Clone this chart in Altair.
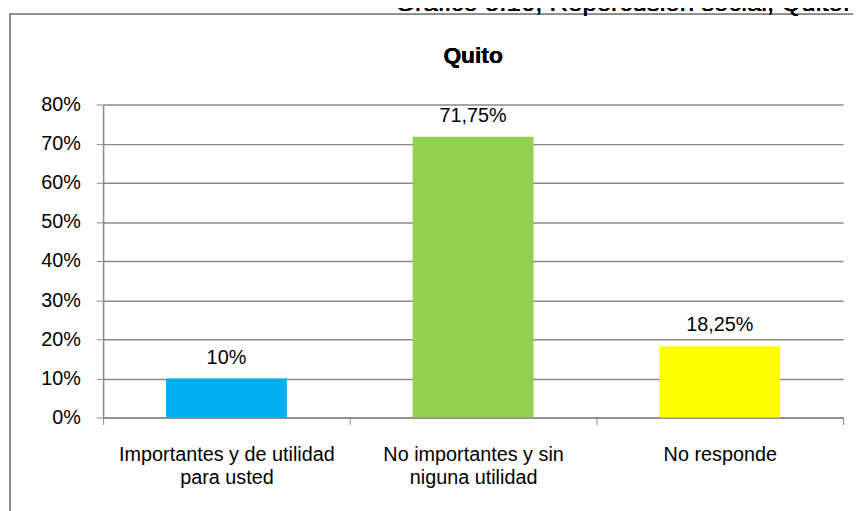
import altair as alt
import pandas as pd

categories = ["Importantes y de utilidad\npara usted", "No importantes y sin\nniguna utilidad", "No responde"]
values = [0.10, 0.7175, 0.1825]
labels = ["10%", "71,75%", "18,25%"]
colors = ["#00B0F0", "#92D050", "#FFFF00"]
y_ticks = [0, 0.1, 0.2, 0.3, 0.4, 0.5, 0.6, 0.7, 0.8]

df = pd.DataFrame({"cat": categories, "val": values, "lab": labels, "col": colors})

W, H = 747, 316
FONT = "Liberation Sans"
FS = 20

x = alt.X("cat:N", sort=categories, title=None,
          scale=alt.Scale(paddingInner=0, paddingOuter=0),
          axis=alt.Axis(labelAngle=0, labelExpr="split(datum.label, '\\n')",
                        labelFont=FONT, labelFontSize=FS, labelColor="#000000",
                        labelPadding=20, labelLineHeight=24, labelLimit=0,
                        tickBand="extent", tickSize=7, tickColor="#898989",
                        domainColor="#898989", domainWidth=1.5, grid=False))
y = alt.Y("val:Q", title=None,
          scale=alt.Scale(domain=[0, 0.8]),
          axis=alt.Axis(format=".0%", values=y_ticks, labelOverlap=False,
                        labelFont=FONT, labelFontSize=FS, labelColor="#000000",
                        labelPadding=16, tickSize=7, tickColor="#898989",
                        domainColor="#898989", domainWidth=1.5,
                        gridColor="#898989", gridWidth=1.5))

bars = alt.Chart(df).mark_bar(width=alt.RelativeBandSize(0.49)).encode(
    x=x, y=y, color=alt.Color("col:N", scale=None))

text = alt.Chart(df).mark_text(baseline="bottom", dy=-11, font=FONT, fontSize=FS, color="#000000").encode(
    x=x, y=y, text="lab:N")

border = alt.Chart(df).mark_rect(fill=None, stroke="#898989", strokeWidth=1.5).encode(
    x=alt.value(-94), y=alt.value(-91), x2=alt.value(780), y2=alt.value(450))

caption = alt.Chart(df).mark_text(align="right", baseline="alphabetic", font=FONT, fontSize=26,
                                  color="#000000").encode(
    x=alt.value(754), y=alt.value(-94), text=alt.value("Gráfico 5.16, Repercusión social, Quito."))

title = alt.Chart(df).mark_text(align="center", baseline="middle", font=FONT, fontSize=23,
                                fontWeight="bold", color="#000000").encode(
    x=alt.value(W / 2), y=alt.value(-49), text=alt.value("Quito"))

chart = alt.layer(border, bars, text, caption, title).properties(
    width=W, height=H,
    autosize=alt.AutoSizeParams(type="none"),
    padding={"left": 96, "top": 95, "right": 10, "bottom": 100},
).configure_view(stroke=None).configure_axis(labelFlush=False)

chart.save("out.html", embed_options={"renderer": "svg", "actions": False})
